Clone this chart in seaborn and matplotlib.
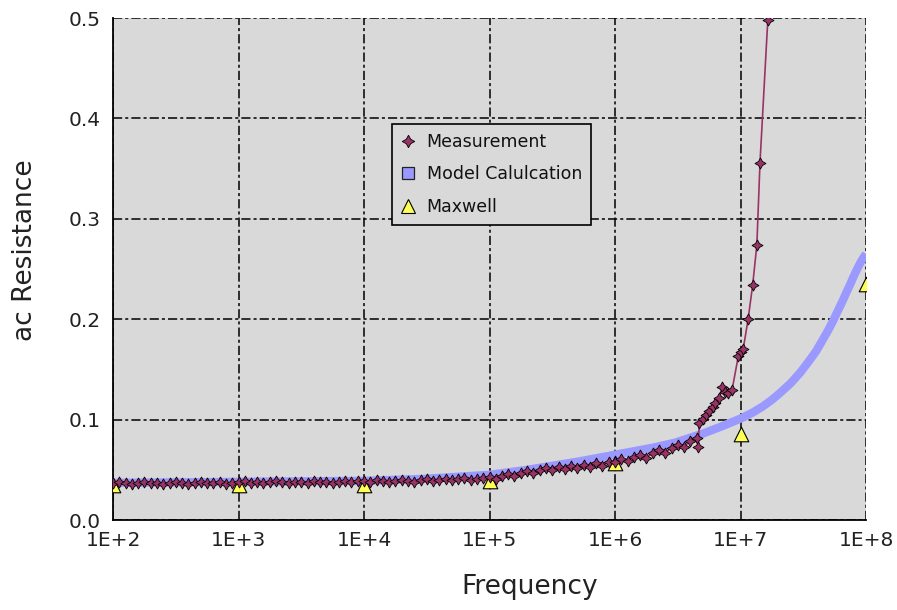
import numpy as np
import pandas as pd
import matplotlib
matplotlib.use("Agg")
import matplotlib.pyplot as plt
import seaborn as sns
from matplotlib.lines import Line2D
from matplotlib.ticker import FixedLocator, NullLocator, FixedFormatter

# ---------------- data ----------------
meas_freq = [
    100, 112, 126, 141, 158, 178, 200, 224, 251, 282, 316, 355, 398, 447, 501, 562, 631, 708, 794, 891,
    1000, 1120, 1260, 1410, 1580, 1780, 2000, 2240, 2510, 2820, 3160, 3550, 3980, 4470, 5010, 5620, 6310, 7080, 7940, 8910,
    10000, 11200, 12600, 14100, 15800, 17800, 20000, 22400, 25100, 28200, 31600, 35500, 39800, 44700, 50100, 56200, 63100, 70800, 79400, 89100,
    100000, 112000, 126000, 141000, 158000, 178000, 200000, 224000, 251000, 282000, 316000, 355000, 398000, 447000, 501000, 562000, 631000, 708000, 794000, 891000,
    1000000, 1120000, 1260000, 1410000, 1580000, 1780000, 2000000, 2240000, 2510000, 2820000, 3160000, 3550000, 3980000, 4470000,
    4600000, 4700000, 5010000, 5300000, 5620000, 6000000, 6310000, 6800000, 7130000, 7500000, 7940000, 8550000,
    9600000, 10000000, 10500000, 11500000, 12500000, 13500000, 14300000, 16500000,
]
meas_res = [
    0.037, 0.038, 0.037, 0.036, 0.037, 0.038, 0.037, 0.037, 0.036, 0.037, 0.038, 0.037, 0.036, 0.037, 0.038, 0.037, 0.037, 0.038, 0.036, 0.037,
    0.038, 0.039, 0.037, 0.038, 0.037, 0.038, 0.039, 0.038, 0.037, 0.038, 0.038, 0.037, 0.039, 0.038, 0.038, 0.037, 0.038, 0.039, 0.038, 0.039,
    0.039, 0.038, 0.040, 0.039, 0.038, 0.039, 0.040, 0.039, 0.038, 0.040, 0.041, 0.039, 0.040, 0.041, 0.040, 0.041, 0.042, 0.040, 0.041, 0.042,
    0.043, 0.041, 0.044, 0.046, 0.044, 0.047, 0.049, 0.047, 0.050, 0.052, 0.050, 0.053, 0.051, 0.054, 0.052, 0.055, 0.053, 0.057, 0.054, 0.058,
    0.058, 0.061, 0.059, 0.063, 0.065, 0.062, 0.067, 0.070, 0.067, 0.072, 0.075, 0.073, 0.079, 0.082,
    0.073, 0.097, 0.101, 0.105, 0.109, 0.113, 0.117, 0.122, 0.132, 0.127, 0.126, 0.129,
    0.163, 0.167, 0.170, 0.200, 0.234, 0.274, 0.356, 0.498,
]

model_freq = [100, 1000, 10000, 30000, 100000, 200000, 500000, 1000000, 2000000, 3000000, 5000000,
              7000000, 10000000, 12500000, 15000000, 17500000, 20000000, 25000000, 30000000,
              35000000, 40000000, 45000000, 50000000, 55000000, 60000000, 65000000,
              70000000, 75000000, 80000000, 85000000, 90000000, 95000000, 100000000]
model_res = [0.037, 0.038, 0.039, 0.041, 0.045, 0.050, 0.058, 0.065, 0.072, 0.077, 0.086,
             0.093, 0.101, 0.107, 0.113, 0.119, 0.125, 0.136, 0.147,
             0.158, 0.168, 0.179, 0.189, 0.199, 0.209, 0.218,
             0.227, 0.235, 0.243, 0.250, 0.256, 0.261, 0.265]

maxwell_freq = [100, 1000, 10000, 100000, 1000000, 10000000, 100000000]
maxwell_res = [0.035, 0.035, 0.035, 0.039, 0.057, 0.086, 0.235]

x_ticks = [1e2, 1e3, 1e4, 1e5, 1e6, 1e7, 1e8]
x_tick_labels = ["1E+2", "1E+3", "1E+4", "1E+5", "1E+6", "1E+7", "1E+8"]
y_ticks = [0.0, 0.1, 0.2, 0.3, 0.4, 0.5]
y_tick_labels = ["0.0", "0.1", "0.2", "0.3", "0.4", "0.5"]

series_names = ["Measurement", "Model Calulcation", "Maxwell"]

meas_df = pd.DataFrame({"f": meas_freq, "r": meas_res})
model_df = pd.DataFrame({"f": model_freq, "r": model_res})
max_df = pd.DataFrame({"f": maxwell_freq, "r": maxwell_res})

# ---------------- style ----------------
sns.set_theme(style="white")
plt.rcParams['font.family'] = ['DejaVu Sans']

MEAS_COL = "#993366"
MODEL_COL = "#9999FF"
MAX_COL = "#FFFF55"
BG = "#D9D9D9"

fig = plt.figure(figsize=(8.97, 6.10), dpi=100)
ax = fig.add_axes([113 / 897, 90 / 610, 753 / 897, 502 / 610])
ax.set_facecolor(BG)

star = (4, 1, 0)

sns.lineplot(data=model_df, x="f", y="r", ax=ax, color=MODEL_COL, linewidth=6,
             solid_capstyle="butt", estimator=None, sort=False, zorder=3, legend=False)
sns.scatterplot(data=max_df, x="f", y="r", ax=ax, marker="^", s=110, color=MAX_COL,
                edgecolor="black", linewidth=0.8, zorder=4, legend=False)
sns.lineplot(data=meas_df, x="f", y="r", ax=ax, color=MEAS_COL, linewidth=1.2,
             marker=star, markersize=8, markerfacecolor=MEAS_COL, markeredgecolor="black",
             markeredgewidth=0.6, estimator=None, sort=False, zorder=5, legend=False)

ax.set_xscale("log")
ax.set_xlim(1e2, 1e8)
ax.set_ylim(0, 0.5)
ax.xaxis.set_major_locator(FixedLocator(x_ticks))
ax.xaxis.set_major_formatter(FixedFormatter(x_tick_labels))
ax.xaxis.set_minor_locator(NullLocator())
ax.yaxis.set_major_locator(FixedLocator(y_ticks))
ax.yaxis.set_major_formatter(FixedFormatter(y_tick_labels))

ax.grid(True, color="black", linestyle=(0, (6, 2, 2, 2)), linewidth=1.1)
ax.set_axisbelow(True)

for side in ["top", "right"]:
    ax.spines[side].set_visible(False)
for side in ["left", "bottom"]:
    ax.spines[side].set_color("black")
    ax.spines[side].set_linewidth(1.3)

ax.tick_params(axis="both", which="major", direction="inout", length=10, width=1.1,
               colors="black", labelsize=14.5)
ax.tick_params(axis="x", pad=3)
ax.tick_params(axis="y", pad=4)
for lbl in ax.get_xticklabels() + ax.get_yticklabels():
    lbl.set_color("#222222")

ax.set_xlabel("Frequency", fontsize=19, color="#222222")
ax.set_ylabel("ac Resistance", fontsize=19, color="#222222")
ax.xaxis.set_label_coords(0.554, -0.108)
ax.yaxis.set_label_coords(-0.100, 0.538)

handles = [
    Line2D([], [], linestyle="none", marker=star, markersize=9, markerfacecolor=MEAS_COL,
           markeredgecolor="black", markeredgewidth=0.6),
    Line2D([], [], linestyle="none", marker="s", markersize=8, markerfacecolor=MODEL_COL,
           markeredgecolor="#222222", markeredgewidth=0.9),
    Line2D([], [], linestyle="none", marker="^", markersize=10, markerfacecolor=MAX_COL,
           markeredgecolor="black", markeredgewidth=0.8),
]
leg = ax.legend(handles, series_names, loc="upper left",
                bbox_to_anchor=((392 - 113) / 753, (520 - 124) / 502),
                borderaxespad=0, frameon=True, fancybox=False, framealpha=1,
                facecolor=BG, edgecolor="black", fontsize=12.5,
                handlelength=0.9, handletextpad=0.6, labelspacing=0.85, borderpad=0.5)
leg.get_frame().set_linewidth(1.2)
leg.set_zorder(10)
for t in leg.get_texts():
    t.set_color("#111111")

fig.savefig("out.png", dpi=100, facecolor="white")
